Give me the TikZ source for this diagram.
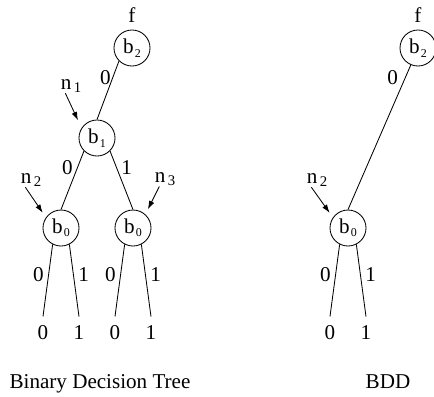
\documentclass[tikz,border=0pt]{standalone}
\usepackage{fontspec}
\setmainfont{Liberation Serif}
\usetikzlibrary{positioning,arrows.meta}

\newcommand{\lo}[2][8.5]{\kern0.8pt\raisebox{-0.35ex}{\fontsize{#1}{#1}\selectfont #2}}
\newcommand{\nlo}[1]{\kern1.8pt\raisebox{-0.4ex}{\fontsize{10.5}{10.5}\selectfont #1}}

\begin{document}
\begin{tikzpicture}[x=0.025cm,y=-0.025cm,line width=0.6pt,
    font=\fontsize{15}{18}\selectfont,
    var/.style={circle,draw,minimum size=0.9cm,inner sep=0pt},
    leaf/.style={inner sep=6.4pt},
    lbl/.style={inner sep=3.2pt},
    tag/.style={inner sep=0pt,anchor=base},
    ptr/.style={-{Latex[length=6pt,width=4pt]},shorten >=4pt}]
   \useasboundingbox (0,0) rectangle (434,396);
   % binary decision tree
   \node[var] (tb2) at (132,48) {b\lo{2}};
   \node[var] (tb1) at (97,138) {b\lo{1}};
   \node[var] (tb0l) at (61,228) {b\lo{0}};
   \node[var] (tb0r) at (133,228) {b\lo{0}};
   \node[tag] (tf) at (132,22) {f};
   \node[tag] (tn1) at (71,89) {n\nlo{1}};
   \node[tag] (tn2) at (31,183) {n\nlo{2}};
   \node[tag] (tn3) at (165,182) {n\nlo{3}};
   \node[leaf] (t00) at (43,333) {0};
   \node[leaf] (t01) at (79,333) {1};
   \node[leaf] (t10) at (115,333) {0};
   \node[leaf] (t11) at (151,333) {1};
   \node[tag] (tcap) at (100,388) {Binary Decision Tree};
   \path
    (tb2.225) edge node[lbl,left,pos=0.29,inner sep=1pt] {0} (tb1.north)
    (tb1.225) edge node[lbl,left,pos=0.28] {0} (tb0l.north)
    (tb1.315) edge node[lbl,right,pos=0.28] {1} (tb0r.north)
    (tb0l.243) edge node[lbl,left,pos=0.42] {0} (t00.north)
    (tb0l.297) edge node[lbl,right,pos=0.42] {1} (t01.north)
    (tb0r.243) edge node[lbl,left,pos=0.42] {0} (t10.north)
    (tb0r.297) edge node[lbl,right,pos=0.42] {1} (t11.north);
   \draw[ptr,shorten >=6pt] ([xshift=-4pt]tn1.south) -- (tb1.147);
   \draw[ptr] ([xshift=-4pt]tn2.south) -- (tb0l.145);
   \draw[ptr] ([xshift=-4pt]tn3.south) -- (tb0r.48);
   % reduced diagram
   \node[var] (db2) at (418,48) {b\lo{2}};
   \node[var] (db0) at (348,228) {b\lo{0}};
   \node[tag] (df) at (418,22) {f};
   \node[tag] (dn2) at (317,183) {n\nlo{2}};
   \node[leaf] (d0) at (330,333) {0};
   \node[leaf] (d1) at (366,333) {1};
   \node[tag] (dcap) at (388,388) {BDD};
   \path
    (db2.247) edge node[lbl,left,pos=0.09,inner sep=4.8pt] {0} (db0.north)
    (db0.243) edge node[lbl,left,pos=0.42] {0} (d0.north)
    (db0.297) edge node[lbl,right,pos=0.42] {1} (d1.north);
   \draw[ptr] ([xshift=-4pt]dn2.south) -- (db0.145);
\end{tikzpicture}
\end{document}
